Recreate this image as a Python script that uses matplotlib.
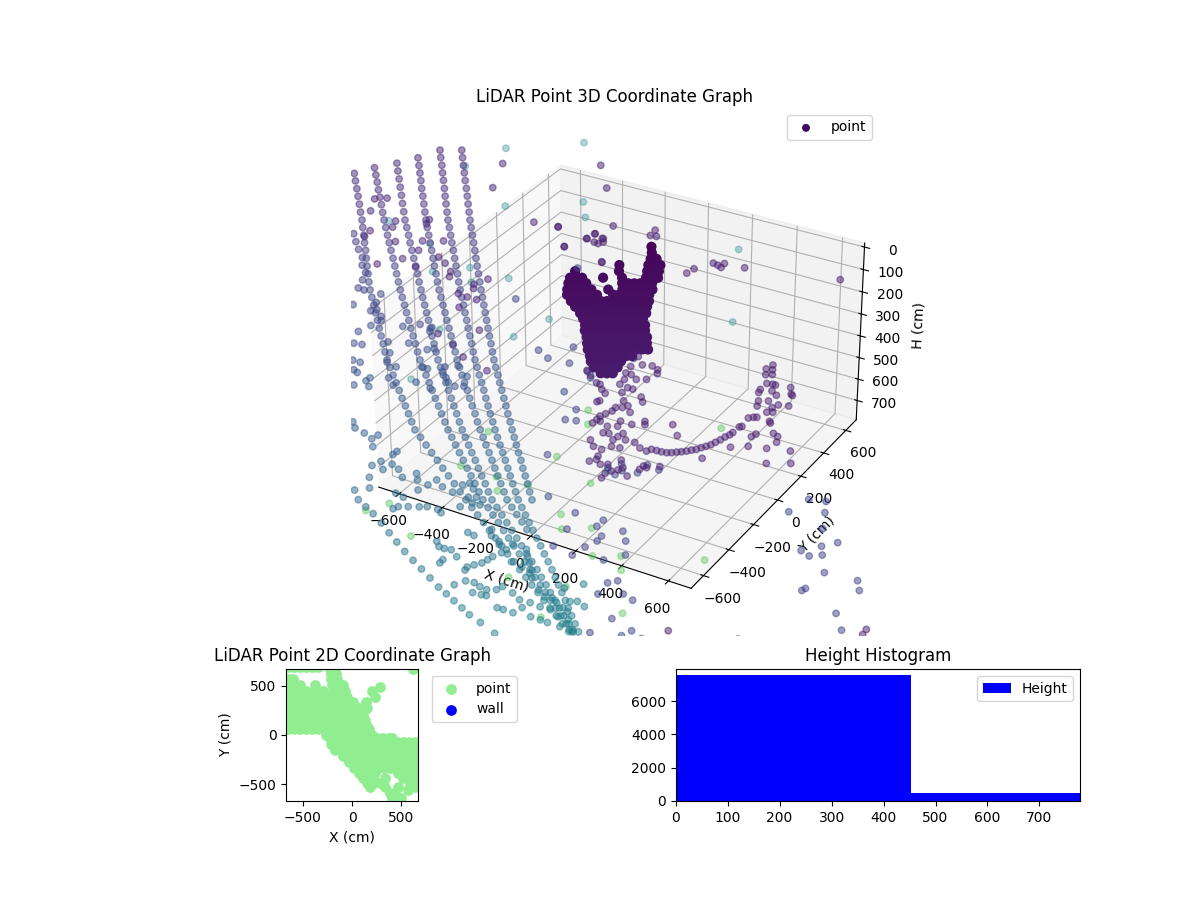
"""LiDAR point cloud overview: 3D scatter, plan view and height histogram."""
import matplotlib

matplotlib.use("Agg")
import matplotlib.pyplot as plt
from matplotlib.gridspec import GridSpec

PLAN_LIMIT = 670
# 3D axes keep a small margin around the scan
XY_LIMIT = 696
H_TOP, H_BOTTOM = -18, 791
# The 3D readings below were taken on a 670 cm / 780 cm grid
XY_SCALE = XY_LIMIT / PLAN_LIMIT
H_SCALE = (H_BOTTOM - H_TOP) / 780

# Scan rings seen on the left of the 3D view, all sharing one height profile
ring_h = [78, 82, 87, 91, 95, 100, 104, 108, 113, 117, 121, 126, 130, 134, 139, 143, 147, 152, 156, 160, 165, 169, 173, 178, 182, 186, 191, 195, 199, 204, 208, 212, 217, 221, 225, 230, 234, 238, 243, 247, 251, 256, 260, 264, 269, 273, 278, 282, 286, 291, 295, 299, 304, 308, 312, 317, 321, 325, 330, 334, 338, 343, 347, 351]
ring_a_x = [-1173, -1137, -1101, -1065, -1029, -992, -956, -920, -884, -848, -814, -780, -746, -712, -678, -644, -610, -576, -542, -510, -478, -446, -414, -382, -350, -318, -286, -254, -223, -191, -160, -129, -97, -66, -35, -3, 28, 58, 87, 117, 147, 176, 206, 236, 265, 295]
ring_a_y = [723, 673, 623, 574, 524, 475, 425, 375, 326, 276, 231, 187, 142, 97, 52, 7, -37, -82, -126, -167, -208, -249, -290, -331, -372, -412, -453, -494, -531, -567, -604, -640, -677, -713, -750, -786, -823, -857, -890, -924, -957, -991, -1024, -1058, -1091, -1125]
ring_b_x = [-1250, -1214, -1177, -1141, -1105, -1068, -1032, -996, -959, -923, -888, -853, -819, -784, -749, -714, -679, -645, -610, -577, -544, -511, -478, -446, -413, -380, -347, -314, -282, -250, -217, -185, -153, -121, -89, -56, -24, 7, 38, 69, 100, 131, 161, 192, 223, 254, 286, 318, 350, 382, 415, 447, 479, 511, 543, 572, 601, 630, 659, 687, 716, 745, 774, 803]
ring_b_y = [679, 629, 580, 530, 481, 431, 381, 332, 282, 233, 189, 144, 100, 56, 11, -33, -77, -122, -166, -206, -246, -287, -327, -367, -407, -447, -488, -528, -564, -600, -636, -672, -709, -745, -781, -817, -853, -886, -919, -951, -984, -1017, -1050, -1083, -1115, -1148, -1176, -1205, -1233, -1261, -1290, -1318, -1347, -1375, -1404, -1431, -1458, -1485, -1512, -1540, -1567, -1594, -1621, -1648]
ring_c_x = [-1293, -1256, -1219, -1182, -1146, -1109, -1072, -1035, -998, -963, -927, -892, -856, -821, -786, -750, -715, -679, -645, -610, -576, -542, -507, -473, -439, -404, -370, -337, -303, -270, -236, -203, -170, -136, -103, -69, -37, -5, 28, 60, 92, 124, 156, 189, 221, 256, 291, 327, 362]
ring_c_y = [581, 532, 483, 434, 385, 337, 288, 239, 190, 146, 102, 58, 14, -30, -74, -118, -162, -206, -245, -285, -324, -364, -403, -442, -482, -521, -561, -596, -632, -667, -702, -738, -773, -808, -844, -879, -911, -943, -975, -1007, -1039, -1071, -1103, -1135, -1167, -1192, -1217, -1242, -1267]
ring_d_x = [-1345, -1306, -1266, -1227, -1187, -1148, -1109, -1069, -1032, -995, -959, -922, -885, -848, -811, -775, -738, -704, -670, -635, -601, -567, -533, -499, -464, -430, -396, -362, -328, -294, -260, -226, -192, -158, -124, -91, -57, -24, 10, 43, 76, 110, 143, 177, 213, 249, 285, 321, 357, 392, 428, 464, 500, 532, 565, 597, 630, 662, 694, 727, 759, 792]
ring_d_y = [505, 454, 403, 352, 301, 250, 200, 149, 106, 63, 19, -24, -67, -110, -153, -197, -240, -280, -319, -359, -398, -438, -478, -517, -557, -596, -631, -666, -701, -736, -771, -806, -841, -876, -911, -942, -974, -1005, -1036, -1068, -1099, -1130, -1162, -1193, -1219, -1245, -1271, -1297, -1324, -1350, -1376, -1402, -1428, -1453, -1478, -1504, -1529, -1554, -1579, -1604, -1629, -1654]
ring_e_x = [-1400, -1363, -1326, -1289, -1251, -1214, -1177, -1140, -1103, -1066, -1029, -992, -954, -917, -880, -843, -806, -771, -735, -700, -664, -629, -594, -558, -523, -487, -451, -416, -380, -345, -309, -273, -238, -202, -167, -132, -97, -61, -26, 9, 44, 79, 115, 150, 187, 223, 260, 297, 333, 370, 407, 443, 480, 514, 549, 583, 617, 652, 686, 720, 755, 789]
ring_e_y = [425, 380, 335, 289, 244, 199, 153, 108, 65, 22, -21, -64, -107, -150, -193, -236, -279, -318, -357, -396, -435, -474, -512, -551, -590, -629, -663, -697, -731, -765, -800, -834, -868, -902, -936, -966, -996, -1027, -1057, -1087, -1117, -1147, -1178, -1208, -1234, -1260, -1285, -1311, -1337, -1363, -1389, -1414, -1440, -1464, -1488, -1512, -1536, -1560, -1584, -1608, -1632, -1656]
ring_f_x = [-1446, -1408, -1369, -1331, -1292, -1254, -1215, -1181, -1146, -1112, -1077, -1043, -1009, -974, -940, -905, -870, -835, -800, -765, -731, -696, -661, -626, -591, -555, -519, -483, -447, -412, -376, -340, -304, -268, -227, -186, -145, -104, -64, -23, 18, 59, 100, 139, 178, 217, 256, 295, 334, 373, 412, 451, 488, 525, 562, 599, 635, 672, 709, 746, 783]
ring_f_y = [348, 301, 254, 207, 159, 112, 65, 20, -24, -69, -113, -158, -203, -247, -292, -336, -375, -414, -454, -493, -532, -571, -610, -650, -689, -723, -757, -791, -825, -859, -892, -926, -960, -994, -1021, -1048, -1075, -1102, -1129, -1156, -1183, -1210, -1237, -1261, -1286, -1310, -1335, -1359, -1383, -1408, -1432, -1457, -1479, -1502, -1524, -1547, -1569, -1591, -1614, -1636, -1659]
ring_g_x = [-218, -175, -133, -80, -28, 22, 73, 122, 171, 221, 270, 310, 350, 390, 429, 480, 548]
ring_g_y = [-1420, -1438, -1456, -1485, -1515, -1544, -1573, -1597, -1621, -1646, -1670, -1685, -1701, -1716, -1732, -1746, -1768]

# Loose floor returns between the rings
loose_x = [-904, -650, -608, -583, -539, -524, -582, -585, -668, -699, -641, -661, -556, -608, -485, -424, -359, -289, -261, -662, -614, -580, -500, -481, -565, -557, -434, -458, -385, -377, -346, -324, -283, -348,
           -485, -458, -413, -371, -343, -365, -257, -254, -271, -285, -240, -228, -194, -157, -127, -104, -58, -47, -9, 37, 45, 61, 89, 122, 98, 155, 127, 102, 63, 44, 5, -18, -51, -80, -89, -260, -256, -222, -129, -94, -72,
           198, 224, 133, 154, 175, 198, 233, 292, 294, 306, 323, 331, 336, 351, 405, 449, 487, 506, 556, 590, 614, 640, 670, 693, 303, 325, 354, 381, 408, 436, 445, 490, 527, 565, 603, 640, 679, 715, 752, 376, 406, 423, 485, 507, 542, 555, 602, 637, 663, 708, 743, 202, 202, 669, 625, 675, 695, 727,
           259, 275, 314, 322, 357, 360, 414, 436, 459, 486,
           -786, -768, -855, -836, -823, -807, -768, -753, -754, -726, -1060, -1029, -988, -969, -951, -924, -1186, -1146, -1105]
loose_y = [-450, -594, -645, -700, -707, -778, -812, -833, -749, -751, -807, -800, -858, -877, -808, -750, -757, -702, -686, -478, -435, -562, -561, -543, -430, -456, -660, -661, -619, -649, -673, -692, -630, -589,
           -1063, -1089, -1097, -1112, -1147, -1082, -1150, -1129, -1203, -1238, -1237, -1198, -1209, -1241, -1198, -1227, -1232, -1194, -1216, -1223, -1173, -1152, -1173, -1205, -1219, -1235, -1239, -1277, -1336, -1327, -1333, -1347, -1365, -1382, -1400, -1381, -1297, -1346, -1324, -1330, -1272,
           -1379, -1382, -1470, -1489, -1489, -1482, -1503, -1531, -1547, -1510, -1489, -1466, -1442, -1411, -1435, -1440, -1453, -1471, -1510, -1530, -1521, -1535, -1545, -1555, -1627, -1592, -1585, -1593, -1594, -1578, -1555, -1565, -1582, -1578, -1578, -1574, -1591, -1587, -1621, -1629, -1624, -1620, -1652, -1650, -1647, -1611, -1635, -1632, -1631, -1628, -1626, -1558, -1539, -1412, -1461, -1509, -1496, -1505,
           -1326, -1353, -1367, -1379, -1390, -1355, -1355, -1384, -1410, -1437,
           -588, -532, -338, -396, -452, -435, -464, -486, -663, -652, -160, -207, -244, -292, -347, -348, -35, -78, -120]
loose_h = [165, 183, 192, 197, 200, 206, 206, 208, 197, 196, 203, 201, 211, 210, 210, 209, 212, 211, 211, 177, 176, 184, 189, 188, 178, 180, 201, 200, 200, 203, 206, 209, 205, 199,
           231, 234, 237, 240, 245, 239, 249, 247, 253, 255, 258, 254, 258, 262, 260, 263, 266, 263, 267, 270, 266, 265, 268, 273, 273, 277, 276, 278, 282, 280, 278, 278, 278, 278, 279, 269, 262, 268, 271, 273, 269,
           293, 295, 298, 301, 302, 303, 307, 312, 314, 311, 310, 308, 307, 305, 309, 312, 316, 318, 325, 329, 330, 332, 335, 337, 322, 320, 321, 323, 325, 325, 323, 327, 331, 332, 335, 336, 340, 342, 347, 327, 328, 328, 335, 336, 338, 335, 340, 342, 344, 346, 347, 310, 308, 322, 324, 331, 331, 335,
           291, 295, 298, 300, 303, 300, 303, 307, 310, 314,
           180, 177, 159, 163, 168, 167, 171, 174, 184, 187, 139, 143, 147, 151, 155, 156, 125, 130, 134]

# Darker returns high on the left
upper_x = [-1200, -1239, -1194, -1060, -1041, -1100, -1090, -964, -921, -862, -847, -877, -943, -953, -807, -750, -702, -781, -647, -629, -493, -517, -500, -528, -485, -444, -468, -311, -427, -334, -256, -130, -970, -888]
upper_y = [220, 190, 96, 72, 23, -45, -97, -72, -259, -175, -88, -15, 113, 148, 25, -96, -125, -207, -171, -207, -152, -212, -241, -302, -308, -308, -390, -498, -594, -638, -692, -732, 713, 508]

# Low returns around and below the main object, then the thin arc and the far post
near_x = [266, 282, 305, 329, 342, 377, 377, 410, 440, 429, 409, 410, 400, 391, 393, 392, 409, 469, 477, 468, 513, 447, 456, 475, 508, 512, 517, 545, 554, 525, 506, 517, 523, 508, 550, 597, 572, 603, 619, 626, 664, 592, 596, 679, 694, 680, 729, 613, 580, 472, 442, 333, 338, 293, 301, 313, 343, 377, 407, 419, 406, 375, 343, 321, 193, 221, 450, 471, 398, 339,
          642, 651, 670, 688, 706, 720, 733, 746, 759, 770, 782, 791, 801, 810, 816, 823, 828, 835, 837, 839, 845, 838, 851, 861,
          744, 736, 758, 773, 753, 785, 805, 816, 824, 784, 789, 851, 845, 815, 827, 887, 877, 875, 893, 921, 870, 892, 900, 911, 919, 904, 910, 959, 981, 995, 924, 875, 984, 1061, 1027, 1098, 826, 683, 635, 542, 553,
          -467, -286, -314, -321, -265, -281, -262, -251, -122, -128, -98, -360, -176, 147, 154, 195, 217, 233, 237, 315, 668, -568, -466, -362, -320, -313, -270, -171, -597, -473, 1733, 1735, 1213]
near_y = [-640, -643, -670, -688, -608, -615, -654, -700, -722, -741, -753, -779, -806, -829, -854, -881, -858, -823, -857, -756, -823, -875, -919, -913, -942, -915, -889, -921, -975, -981, -1015, -1057, -1078, -1099, -1098, -1040, -1086, -1116, -1099, -1079, -1117, -1139, -1169, -1060, -1039, -1035, -1011, -942, -920, -1011, -980, -751, -741, -426, -407, -482, -451, -440, -454, -478, -532, -550, -530, -530, -582, -605, -647, -674, -615, -571,
          -948, -930, -928, -927, -923, -915, -903, -893, -881, -867, -855, -837, -821, -804, -782, -760, -736, -716, -697, -654, -646, -586, -573, -567,
          -221, -257, -252, -282, -294, -346, -341, -341, -383, -394, -416, -402, -450, -467, -500, -457, -484, -520, -510, -445, -330, -369, -376, -569, -578, -689, -667, -633, -644, -679, -750, -785, -731, -706, -816, -775, -895, -809, -754, -783, -802,
          315, 426, 333, 283, 315, 273, 270, 290, 428, 476, 433, 183, 149, 230, 274, 350, 344, 368, 334, 376, 471, 300, 312, 185, 285, 335, 315, 145, 862, 697, -1512, -1542, -1820]

# Mid height returns, blue on the right of the view
mid_x = [216, 218, 255, 285, 116, -58, -20, -320, -395, -118, 28, 115, 147, 425, 554, 581, 674, 593, 686, 776, 823, 783, 746, 702, 700, 506, 549, 557, 609, 613, 663, 534, 657, 657, 858, 853, 875, 927, 970, 964, 1050, 1036, 943, 1097, 1186, 1242, 1163, 1269, 1306, 1303, 1349, 1340, 1374, 1385, 1425, 1537, 1566, 1408, 1413, 1558, 1613, 1357]
mid_y = [-697, -775, -762, -1004, -612, -437, -321, 213, -115, -404, -429, -448, -481, -1229, -1270, -1368, -1490, -1475, -1429, -1464, -1404, -1333, -1287, -1379, -1347, -973, -999, -966, -951, -890, -899, -929, -1262, -1304, -1639, -1570, -1544, -1599, -1614, -1734, -1760, -1798, -1833, -1781, -810, -793, -911, -856, -946, -1097, -1041, -1112, -1086, -996, -1173, -1161, -1208, -1299, -1283, -1358, -1431, -1633]

# Sparse deep returns drawn pale
green_x = [-353, -311, -158, -103, -28, -38, -108, -56, 177, 229, 317, 163, 410, 497, 541, 226, 427, 447, 675, 762, -396, -443, -210, 392]
green_y = [-392, -647, -646, -726, -635, -416, -70, -161, -744, -825, -766, -512, -918, -868, -944, -1176, -1126, -1325, -1167, -744, -991, -1072, -1130, 66]
teal_x = [-1353, -1090, -1410, -1063, -801, -722, -1406, -1144, -1007, -896, -825, -714, -403, -449, -724, -609, 347, -41, 221]
teal_y = [1340, 1557, 1103, 870, 1064, 947, 517, 427, 236, 338, 237, 339, 134, -51, -145, -515, -703, 1012, 469]

# The dense object in the middle of the scene, row by row
body_rows_h = [12, 14, 16, 18, 20, 22, 24, 26, 28, 30, 33, 35, 37, 39, 41, 43, 45, 47, 49, 51, 54, 56]
body_rows_x = [
    [-23], [0], [19, 38], [-60, 34, 53, 73], [-180, -39, 52, 71, 90],
    [-172, -152, -133, -66, -5, 72, 92, 111],
    [-157, -138, -119, -100, 15, 35, 54, 73, 92, 111],
    [-138, -119, -100, -80, -61, -7, 38, 57, 76, 95, 114, 134],
    [-119, -100, -81, -62, -43, -24, 27, 46, 65, 84, 103, 123, 142],
    [-84, -65, -46, -27, -8, 11, 30, 49, 68, 87, 106, 125, 144, 163],
    [-52, -33, -14, 5, 24, 43, 61, 80, 99, 118, 137, 156, 175],
    [-13, 6, 25, 44, 63, 82, 100, 119, 138, 157, 176, 195],
    [15, 34, 53, 72, 90, 109, 128, 147, 166, 185, 203],
    [44, 63, 81, 100, 119, 138, 157, 175, 194, 213, 232],
    [62, 81, 100, 119, 137, 156, 175, 193, 212, 231, 250],
    [91, 110, 128, 147, 166, 184, 203, 222, 240, 259, 278],
    [113, 131, 150, 168, 187, 206, 224, 243, 261, 280, 298],
    [136, 155, 173, 192, 210, 229, 248, 266, 285, 303, 322],
    [165, 183, 202, 220, 239, 257, 276, 294],
    [185, 203, 222, 240, 259, 277],
    [213, 231, 249, 268, 286],
    [253, 272, 290],
]
body_rows_y = [
    [261], [223], [181, 192], [83, 137, 148, 159], [-38, 44, 96, 107, 118],
    [-88, -77, -66, -27, 8, 52, 63, 74],
    [-125, -114, -103, -92, -26, -15, -4, 7, 18, 29],
    [-165, -154, -143, -132, -121, -90, -64, -53, -42, -31, -20, -9],
    [-198, -187, -176, -165, -154, -143, -113, -102, -91, -80, -69, -58, -47],
    [-229, -218, -207, -196, -185, -174, -163, -152, -141, -130, -119, -108, -97, -86],
    [-253, -242, -231, -220, -209, -198, -187, -176, -165, -154, -143, -132, -121],
    [-283, -272, -261, -250, -239, -228, -217, -206, -196, -185, -174, -163],
    [-309, -298, -287, -277, -266, -255, -244, -233, -222, -211, -201],
    [-344, -333, -322, -312, -301, -290, -279, -268, -258, -247, -236],
    [-376, -365, -355, -344, -333, -322, -311, -300, -290, -279, -268],
    [-411, -400, -389, -379, -368, -357, -346, -336, -325, -314, -303],
    [-446, -436, -425, -414, -404, -393, -382, -372, -361, -350, -339],
    [-480, -469, -458, -448, -437, -426, -415, -405, -394, -383, -373],
    [-514, -503, -493, -482, -471, -461, -450, -439],
    [-542, -531, -520, -510, -499, -488],
    [-569, -558, -548, -537, -527],
    [-589, -579, -568],
]

# Plan view footprint, row by row
plan_rows_y = [695, 670, 620, 570, 510, 450, 485, 390, 330, 270, 210, 150, 90, 60, 0, -30, -70, -90, -150, -210, -270, -330, -390, -440, -490, -530, -560, -590, -640]
plan_rows_x = [
    [-650, -590, -530, -470, -410, -350],
    [-225, -175, 620],
    [-215, -165],
    [-650, -600, -210, -150],
    [-650, -590, -530, -380, -200, -140, -90],
    [-650, -590, -530, -470, -380, -300, -190, -130, -70, 200],
    [280],
    [-650, -590, -530, -470, -410, -350, -290, -230, -170, -110, -50, 229],
    [-650, -590, -530, -470, -410, -350, -290, -230, -170, -110, -50, 10, 144],
    [-650, -590, -530, -470, -410, -350, -290, -230, -170, -110, -50, 10, 70, 154],
    [-650, -590, -530, -470, -410, -350, -290, -230, -170, -110, -50, 10, 70, 110],
    [-650, -590, -530, -470, -410, -350, -290, -230, -170, -110, -50, 10, 70, 130],
    [-650, -590, -530, -470, -410, -350, -290, -230, -170, -110, -50, 10, 70, 130, 150],
    [-650, -590, -530, -470, -410, -350, -290, -230, -170, -110, -50, 10, 70, 130, 170],
    [-270, -210, -150, -90, -30, 30, 90, 150, 200],
    [-230, -170, -110, -50, 10, 70, 130, 190, 250, 310, 370, 400],
    [400, 460, 520, 580, 640],
    [-210, -150, -90, -30, 30, 90, 150, 210, 270, 330, 390, 450, 510, 570, 640],
    [-170, -110, -50, 10, 70, 130, 190, 250, 310, 370, 430, 490, 550, 610, 650],
    [-90, -30, 30, 90, 150, 210, 270, 330, 390, 450, 510, 570, 630, 650],
    [-30, 30, 90, 150, 210, 270, 330, 390, 450, 510, 570, 630, 650],
    [20, 80, 140, 200, 260, 320, 380, 440, 500, 560, 620, 650],
    [70, 130, 190, 230, 470, 530, 590, 650],
    [110, 170, 210, 330, 520, 580, 650],
    [150, 210, 280, 590, 650],
    [180, 330, 467, 640],
    [568],
    [380, 430],
    [400, 450, 500],
]

hist_edges = [0, 452, 780]
hist_counts = [7560, 480]


def to_xy(values):
    return [v * XY_SCALE for v in values]


def to_h(values):
    return [v * H_SCALE + H_TOP for v in values]


scan_x = ring_a_x + ring_b_x + ring_c_x + ring_d_x + ring_e_x + ring_f_x + ring_g_x + loose_x + upper_x + near_x + mid_x
scan_y = ring_a_y + ring_b_y + ring_c_y + ring_d_y + ring_e_y + ring_f_y + ring_g_y + loose_y + upper_y + near_y + mid_y
scan_h = (ring_h[:len(ring_a_x)] + ring_h + ring_h[1:len(ring_c_x) + 1] + ring_h[2:] + ring_h[2:] + ring_h[3:]
          + ring_h[45:62] + loose_h + [85] * len(upper_x) + [65] * len(near_x) + [160] * len(mid_x))
body_x = [v for row in body_rows_x for v in row]
body_y = [v for row in body_rows_y for v in row]
body_h = [h for h, row in zip(body_rows_h, body_rows_x) for _ in row]
plan_x = [v for row in plan_rows_x for v in row]
plan_y = [y for y, row in zip(plan_rows_y, plan_rows_x) for _ in row]

fig = plt.figure(figsize=(12, 9), dpi=100)
gs = GridSpec(2, 2, height_ratios=[4, 1], hspace=0.1, wspace=0.3)

# ---- Top: 3D point cloud ----
ax = fig.add_subplot(gs[0, :], projection="3d")
shade = dict(cmap="viridis", vmin=H_TOP, vmax=H_BOTTOM)


def cloud(xs, ys, hs, **kwargs):
    h_cm = to_h(hs)
    return ax.scatter(to_xy(xs), to_xy(ys), h_cm, c=h_cm, **shade, **kwargs)


cloud(body_x, body_y, body_h, s=40, alpha=1, label="point")
cloud(scan_x, scan_y, scan_h, s=22, alpha=0.5)
cloud(green_x, green_y, [585] * len(green_x), s=22, alpha=0.45, depthshade=False)
cloud(teal_x, teal_y, [370] * len(teal_x), s=22, alpha=0.35, depthshade=False)
ax.set_xlim(-XY_LIMIT, XY_LIMIT)
ax.set_ylim(-XY_LIMIT, XY_LIMIT)
ax.set_zlim(H_BOTTOM, H_TOP)
ax.set_aspect("equal")
ax.set_xlabel("X (cm)")
ax.set_ylabel("Y (cm)")
ax.set_zlabel("H (cm)")
ax.set_title("LiDAR Point 3D Coordinate Graph", pad=4.5)
leg = ax.legend(loc="upper right")
leg.legend_handles[0].set_sizes([22])

# ---- Bottom left: plan view ----
ax2 = fig.add_subplot(gs[1, 0])
ax2.scatter(plan_x, plan_y, c="lightgreen", s=45, label="point")
ax2.scatter([], [], c="blue", s=45, label="wall")
ax2.set_xlim(-PLAN_LIMIT, PLAN_LIMIT)
ax2.set_ylim(-PLAN_LIMIT, PLAN_LIMIT)
ax2.set_aspect("equal")
ax2.set_xlabel("X (cm)")
ax2.set_ylabel("Y (cm)")
ax2.set_title("LiDAR Point 2D Coordinate Graph")
ax2.legend(loc="upper left", bbox_to_anchor=(1.05, 1))

# ---- Bottom right: height histogram ----
ax3 = fig.add_subplot(gs[1, 1])
ax3.hist(hist_edges[:2], bins=hist_edges, weights=hist_counts, color="blue", label="Height")
ax3.set_xlim(0, 778)
ax3.set_title("Height Histogram")
ax3.legend()

fig.savefig("out.png")
